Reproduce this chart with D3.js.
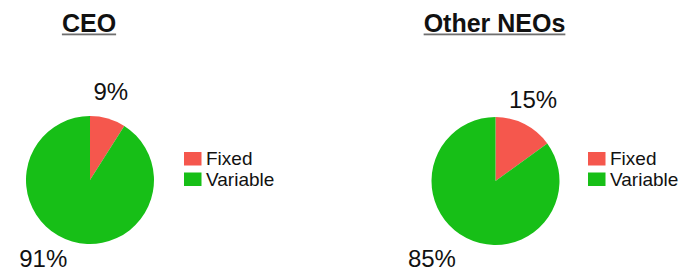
<!DOCTYPE html>
<html>
<head>
<meta charset="utf-8">
<script src="https://cdn.jsdelivr.net/npm/d3@7"></script>
<style>
  body { margin: 0; background: #fff; }
  text { font-family: "Liberation Sans", Arial, Helvetica, sans-serif; fill: #111; }
</style>
</head>
<body>
<svg class="pies"></svg>
<script>
const width = 685;
const height = 274;

// Data
const groups = ['CEO', 'Other NEOs'];
const categories = ['Fixed', 'Variable'];
const ceoValues = [9, 91];
const neoValues = [15, 85];

const colors = d3.scaleOrdinal()
    .domain(categories)
    .range(['#f5574d', '#17bf17']);

const svg = d3.select('.pies')
    .attr('width', width)
    .attr('height', height);

svg.append('rect')
    .attr('width', width)
    .attr('height', height)
    .attr('fill', '#fff');

// one panel per group
const panels = [
    {title: groups[0], values: ceoValues, cx: 90, cy: 180, titleX: 89, legendX: 184},
    {title: groups[1], values: neoValues, cx: 495.5, cy: 181, titleX: 494.5, legendX: 588}
];

const radius = 64;

const pie = d3.pie().sort(null).value(d => d);
const arc = d3.arc().innerRadius(0).outerRadius(radius);
const labelArc = d3.arc().innerRadius(96).outerRadius(96);

panels.forEach(p => {
    // Title with underline
    const t = svg.append('text')
        .attr('x', p.titleX)
        .attr('y', 31.5)
        .attr('text-anchor', 'middle')
        .attr('font-size', 25)
        .attr('font-weight', 'bold')
        .text(p.title);
    const w = t.node().getComputedTextLength();
    svg.append('rect')
        .attr('x', p.titleX - w / 2)
        .attr('y', 33.5)
        .attr('width', w)
        .attr('height', 1.8)
        .attr('fill', '#6f6f6f');

    const g = svg.append('g')
        .attr('transform', `translate(${p.cx},${p.cy})`);

    const arcs = pie(p.values);

    g.selectAll('path')
        .data(arcs)
        .enter().append('path')
        .attr('d', arc)
        .attr('fill', (d, i) => colors(categories[i]));

    // percentage labels outside the pie, kept inside the frame
    const maxY = height - 16 - p.cy;
    g.selectAll('text.pct')
        .data(arcs)
        .enter().append('text')
        .attr('class', 'pct')
        .attr('x', d => labelArc.centroid(d)[0] + (d.data > 50 ? -20 : -6))
        .attr('y', d => Math.min(labelArc.centroid(d)[1] + (d.data > 50 ? -6 : 4), maxY))
        .attr('text-anchor', 'middle')
        .attr('dominant-baseline', 'central')
        .attr('font-size', 24)
        .text(d => d.data + '%');

    // legend
    const legend = svg.append('g')
        .attr('transform', `translate(${p.legendX},152)`);
    const items = legend.selectAll('g')
        .data(categories)
        .enter().append('g')
        .attr('transform', (d, i) => `translate(0,${i * 20.5})`);
    items.append('rect')
        .attr('width', 17.5)
        .attr('height', 13.5)
        .attr('fill', d => colors(d));
    items.append('text')
        .attr('x', 22)
        .attr('y', 13.2)
        .attr('font-size', 19)
        .text(d => d);
});
</script>
</body>
</html>
